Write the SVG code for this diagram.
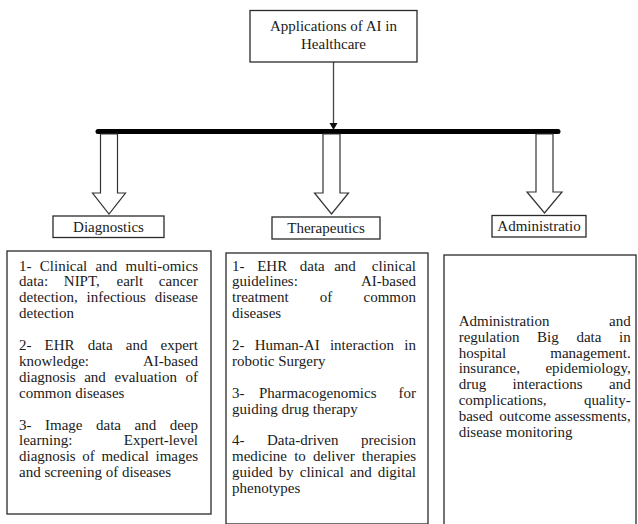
<svg xmlns="http://www.w3.org/2000/svg" width="638" height="524" viewBox="0 0 638 524" font-family="'Liberation Serif', 'Times New Roman', Tinos, 'DejaVu Serif', serif">
<style>
.box{fill:#fff;stroke:#2a2a2a;stroke-width:1.3}
.t{font-family:'Liberation Serif','Times New Roman',Tinos,'DejaVu Serif',serif;font-size:15px;fill:#1a1a1a}
.c{text-anchor:middle}
.e{text-anchor:end}
.blk{fill:#fff;stroke:#333;stroke-width:1.2;stroke-linejoin:miter}
</style>
<rect width="638" height="524" fill="#fff"/>
<g id="connectors">
  <line x1="333.5" y1="62" x2="333.5" y2="124" stroke="#444" stroke-width="1.3"/>
  <polygon points="329.5,123 337.5,123 333.5,130" fill="#111"/>
  <line x1="98" y1="131.5" x2="558" y2="131.5" stroke="#000" stroke-width="5" stroke-linecap="round"/>
  <polygon class="blk" points="100.5,134 100.5,193 92.5,193 109,214 125.5,193 117.5,193 117.5,134"/>
  <polygon class="blk" points="323,134 323,193 314.5,193 331.5,214 348.5,193 340,193 340,134"/>
  <polygon class="blk" points="536,134 536,192 527,192 544.5,213 562,192 553,192 553,134"/>
</g>
<g id="root">
  <rect class="box" x="250" y="10.5" width="167" height="51.5"/>
  <text class="t c" x="333.5" y="30.5">Applications of AI in</text>
  <text class="t c" x="333.5" y="48.5">Healthcare</text>
</g>
<g id="diagnostics">
  <rect class="box" x="53" y="216" width="111" height="21.5"/>
  <text class="t c" x="108.5" y="231.5">Diagnostics</text>
</g>
<g id="therapeutics">
  <rect class="box" x="272" y="217" width="108" height="22"/>
  <text class="t c" x="326" y="233">Therapeutics</text>
</g>
<g id="administration">
  <rect class="box" x="492" y="215.5" width="94" height="21.5"/>
  <text class="t c" x="539" y="231">Administratio</text>
</g>
<g id="diagnostics-details">
  <rect class="box" x="7" y="251" width="204" height="263"/>
  <text class="t" x="19" y="270.5">1-</text><text class="t" x="39.8" y="270.5">Clinical</text><text class="t" x="95.6" y="270.5">and</text><text class="t e" x="198" y="270.5">multi-omics</text>
  <text class="t" x="19" y="286.4">data:</text><text class="t" x="63.8" y="286.4">NIPT,</text><text class="t" x="116.5" y="286.4">earlt</text><text class="t e" x="198" y="286.4">cancer</text>
  <text class="t" x="19" y="302.3">detection,</text><text class="t" x="86.6" y="302.3">infectious</text><text class="t e" x="198" y="302.3">disease</text>
  <text class="t" x="19" y="318.2">detection</text>
  <text class="t" x="19" y="350">2-</text><text class="t" x="44.6" y="350">EHR</text><text class="t" x="87.7" y="350">data</text><text class="t" x="125.8" y="350">and</text><text class="t e" x="198" y="350">expert</text>
  <text class="t" x="19" y="365.9">knowledge:</text><text class="t e" x="198" y="365.9">AI-based</text>
  <text class="t" x="19" y="381.8">diagnosis</text><text class="t" x="84.2" y="381.8">and</text><text class="t" x="114.5" y="381.8">evaluation</text><text class="t e" x="198" y="381.8">of</text>
  <text class="t" x="19" y="397.7">common diseases</text>
  <text class="t" x="19" y="429.5">3-</text><text class="t" x="45" y="429.5">Image</text><text class="t" x="96" y="429.5">data</text><text class="t" x="134.5" y="429.5">and</text><text class="t e" x="198" y="429.5">deep</text>
  <text class="t" x="19" y="445.4">learning:</text><text class="t e" x="198" y="445.4">Expert-level</text>
  <text class="t" x="19" y="461.3">diagnosis</text><text class="t" x="82.3" y="461.3">of</text><text class="t" x="101.4" y="461.3">medical</text><text class="t e" x="198" y="461.3">images</text>
  <text class="t" x="19" y="477.2">and screening of diseases</text>
</g>
<g id="therapeutics-details">
  <rect class="box" x="226" y="253" width="202" height="271"/>
  <text class="t" x="232" y="270.5">1-</text><text class="t" x="257.2" y="270.5">EHR</text><text class="t" x="299.8" y="270.5">data</text><text class="t" x="334.2" y="270.5">and</text><text class="t e" x="416" y="270.5">clinical</text>
  <text class="t" x="232" y="286.4">guidelines:</text><text class="t e" x="416" y="286.4">AI-based</text>
  <text class="t" x="232" y="302.3">treatment</text><text class="t" x="319.8" y="302.3">of</text><text class="t e" x="416" y="302.3">common</text>
  <text class="t" x="232" y="318.2">diseases</text>
  <text class="t" x="232" y="350">2-</text><text class="t" x="254.7" y="350">Human-AI</text><text class="t" x="329.9" y="350">interaction</text><text class="t e" x="416" y="350">in</text>
  <text class="t" x="232" y="365.9">robotic Surgery</text>
  <text class="t" x="232" y="397.7">3-</text><text class="t" x="259" y="397.7">Pharmacogenomics</text><text class="t e" x="416" y="397.7">for</text>
  <text class="t" x="232" y="413.6">guiding drug therapy</text>
  <text class="t" x="232" y="445.4">4-</text><text class="t" x="266.9" y="445.4">Data-driven</text><text class="t e" x="416" y="445.4">precision</text>
  <text class="t" x="232" y="461.3">medicine</text><text class="t" x="294.2" y="461.3">to</text><text class="t" x="313" y="461.3">deliver</text><text class="t e" x="416" y="461.3">therapies</text>
  <text class="t" x="232" y="477.2">guided</text><text class="t" x="278.8" y="477.2">by</text><text class="t" x="299.8" y="477.2">clinical</text><text class="t" x="350" y="477.2">and</text><text class="t e" x="416" y="477.2">digital</text>
  <text class="t" x="232" y="493.1">phenotypes</text>
</g>
<g id="administration-details">
  <rect class="box" x="444" y="255" width="192" height="275"/>
  <text class="t" x="458.7" y="325.7">Administration</text><text class="t e" x="630.7" y="325.7">and</text>
  <text class="t" x="458.7" y="341.6">regulation</text><text class="t" x="537.1" y="341.6">Big</text><text class="t" x="576.4" y="341.6">data</text><text class="t e" x="630.7" y="341.6">in</text>
  <text class="t" x="458.7" y="357.5">hospital</text><text class="t e" x="630.7" y="357.5">management.</text>
  <text class="t" x="458.7" y="373.4">insurance,</text><text class="t e" x="630.7" y="373.4">epidemiology,</text>
  <text class="t" x="458.7" y="389.3">drug</text><text class="t" x="512.6" y="389.3">interactions</text><text class="t e" x="630.7" y="389.3">and</text>
  <text class="t" x="458.7" y="405.2">complications,</text><text class="t e" x="630.7" y="405.2">quality-</text>
  <text class="t" x="458.7" y="421.1">based</text><text class="t" x="499.3" y="421.1">outcome</text><text class="t e" x="630.7" y="421.1">assessments,</text>
  <text class="t" x="458.7" y="437">disease monitoring</text>
</g>
</svg>
